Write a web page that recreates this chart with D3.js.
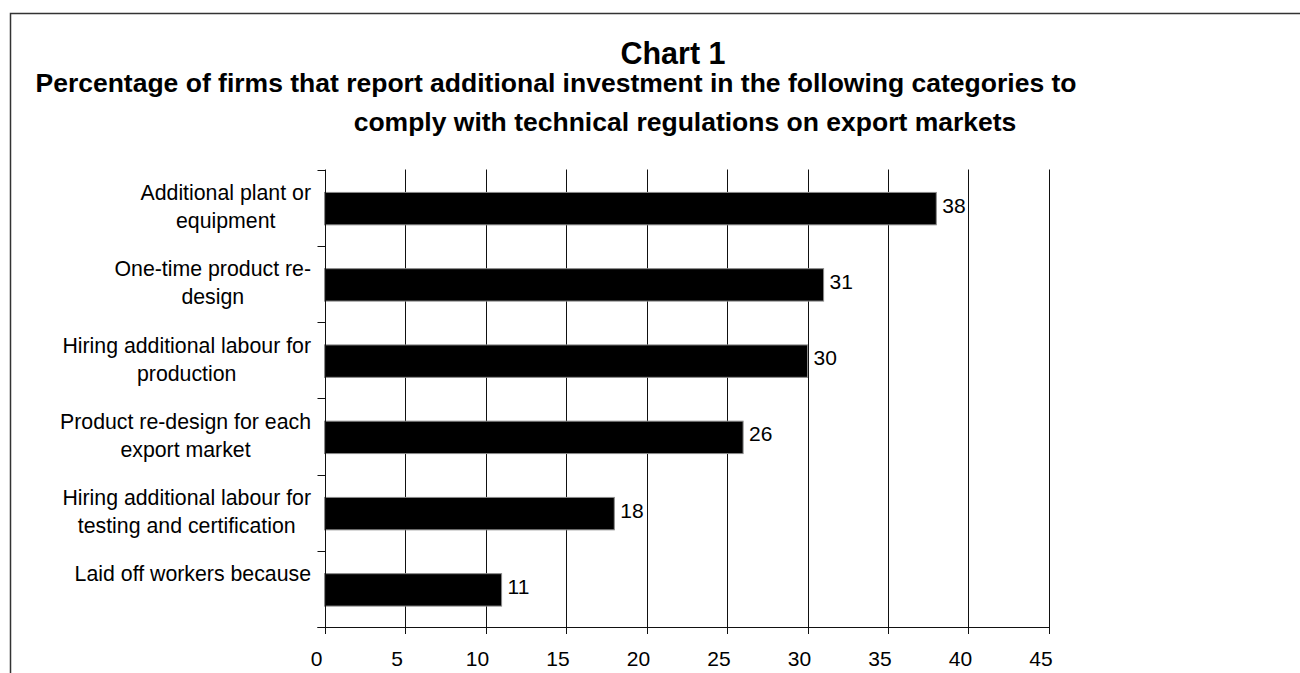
<!DOCTYPE html>
<html>
<head>
<meta charset="utf-8">
<script src="https://cdn.jsdelivr.net/npm/d3@7"></script>
<style>
  html, body { margin: 0; padding: 0; background: #fff; }
  svg { display: block; font-family: "Liberation Sans", Arial, Helvetica, sans-serif; }
</style>
</head>
<body>
<svg id="chart" width="1300" height="673"></svg>
<script>
// Survey results: share of firms (%) reporting each kind of additional investment
const categories = [
  "Additional plant or equipment",
  "One-time product re-design",
  "Hiring additional labour for production",
  "Product re-design for each export market",
  "Hiring additional labour for testing and certification",
  "Laid off workers because"
];
// Wrapped lines shown beside each bar
const categoryLines = [
  ["Additional plant or", "equipment"],
  ["One-time product re-", "design"],
  ["Hiring additional labour for", "production"],
  ["Product re-design for each", "export market"],
  ["Hiring additional labour for", "testing and certification"],
  ["Laid off workers because"]
];
const values = [38, 31, 30, 26, 18, 11];
const xTicks = [0, 5, 10, 15, 20, 25, 30, 35, 40, 45];
const titleText = "Chart 1";
const subtitleLines = [
  "Percentage of firms that report additional investment in the following categories to",
  "comply with technical regulations on export markets"
];

const svg = d3.select("#chart");
const W = 1300, H = 673;

svg.append("rect").attr("width", W).attr("height", H).attr("fill", "#fff");

// outer frame (runs off the right and bottom edges)
svg.append("rect")
  .attr("x", 10.5).attr("y", 13.5)
  .attr("width", 1400).attr("height", 800)
  .attr("fill", "none").attr("stroke", "#333").attr("stroke-width", 1.5);

// titles
svg.append("text")
  .attr("x", 673).attr("y", 64)
  .attr("text-anchor", "middle")
  .attr("font-size", 30.5).attr("font-weight", "bold")
  .text(titleText);

const subCenters = [556, 685];
const subBase = [92, 131];
subtitleLines.forEach((t, i) => {
  svg.append("text")
    .attr("x", subCenters[i]).attr("y", subBase[i])
    .attr("text-anchor", "middle")
    .attr("font-size", 26.5).attr("font-weight", "bold")
    .text(t);
});

// plot area
const plot = { left: 324.5, right: 1049, top: 169.5, bottom: 627 };

const x = d3.scaleLinear().domain([0, 45]).range([plot.left, plot.right]);
const y = d3.scaleBand().domain(categories)
  .range([plot.top, plot.bottom])
  .paddingInner(0.575).paddingOuter(0.2875);

const band = d3.scaleBand().domain(categories).range([plot.top, plot.bottom]);

// vertical gridlines (extend a little below the axis as tick marks)
const grid = svg.append("g");
grid.selectAll("line")
  .data(xTicks.filter(d => d > 0))
  .join("line")
  .attr("x1", d => Math.round(x(d)) + 0.5)
  .attr("x2", d => Math.round(x(d)) + 0.5)
  .attr("y1", plot.top)
  .attr("y2", plot.bottom + 7)
  .attr("stroke", "#111").attr("stroke-width", 1);

// bars
svg.append("g").selectAll("rect")
  .data(categories)
  .join("rect")
  .attr("x", x(0))
  .attr("y", d => y(d) + 1)
  .attr("width", (d, i) => x(values[i]) - x(0))
  .attr("height", y.bandwidth())
  .attr("fill", "#000")
  .attr("stroke", "#8a8a8a").attr("stroke-width", 1);

// value labels
svg.append("g").selectAll("text")
  .data(categories)
  .join("text")
  .attr("x", (d, i) => x(values[i]) + 6)
  .attr("y", d => y(d) + 1 + y.bandwidth() / 2 + 4)
  .attr("font-size", 21)
  .text((d, i) => values[i]);

// category axis line and ticks
const axisX = Math.round(x(0)) + 0.5;
svg.append("line")
  .attr("x1", axisX).attr("x2", axisX)
  .attr("y1", plot.top).attr("y2", plot.bottom + 7)
  .attr("stroke", "#111");

const bounds = categories.map(c => band(c)).concat([plot.bottom]);
svg.append("g").selectAll("line")
  .data(bounds)
  .join("line")
  .attr("x1", axisX - 8).attr("x2", axisX)
  .attr("y1", d => Math.round(d) + 0.5).attr("y2", d => Math.round(d) + 0.5)
  .attr("stroke", "#111");

// value axis line
svg.append("line")
  .attr("x1", axisX - 8).attr("x2", Math.round(x(45)) + 0.5)
  .attr("y1", Math.round(plot.bottom) + 0.5).attr("y2", Math.round(plot.bottom) + 0.5)
  .attr("stroke", "#111");

// value axis tick labels
svg.append("g").selectAll("text")
  .data(xTicks)
  .join("text")
  .attr("x", d => x(d) - 8)
  .attr("y", 666)
  .attr("text-anchor", "middle")
  .attr("font-size", 21)
  .text(d => d);

// category labels: lines centred on each other, block right-aligned beside the axis
const labelRight = 311;
const lineH = 28;
const catG = svg.append("g");
categories.forEach((c, i) => {
  const lines = categoryLines[i];
  const g = catG.append("g");
  const texts = lines.map((ln, j) =>
    g.append("text")
      .attr("y", band(c) + band.bandwidth() / 2 - 1 + (j - 0.5) * lineH + 7.5)
      .attr("text-anchor", "middle")
      .attr("font-size", 21.3)
      .text(ln)
  );
  const maxW = d3.max(texts, t => t.node().getComputedTextLength());
  texts.forEach(t => t.attr("x", labelRight - maxW / 2));
});
</script>
</body>
</html>
